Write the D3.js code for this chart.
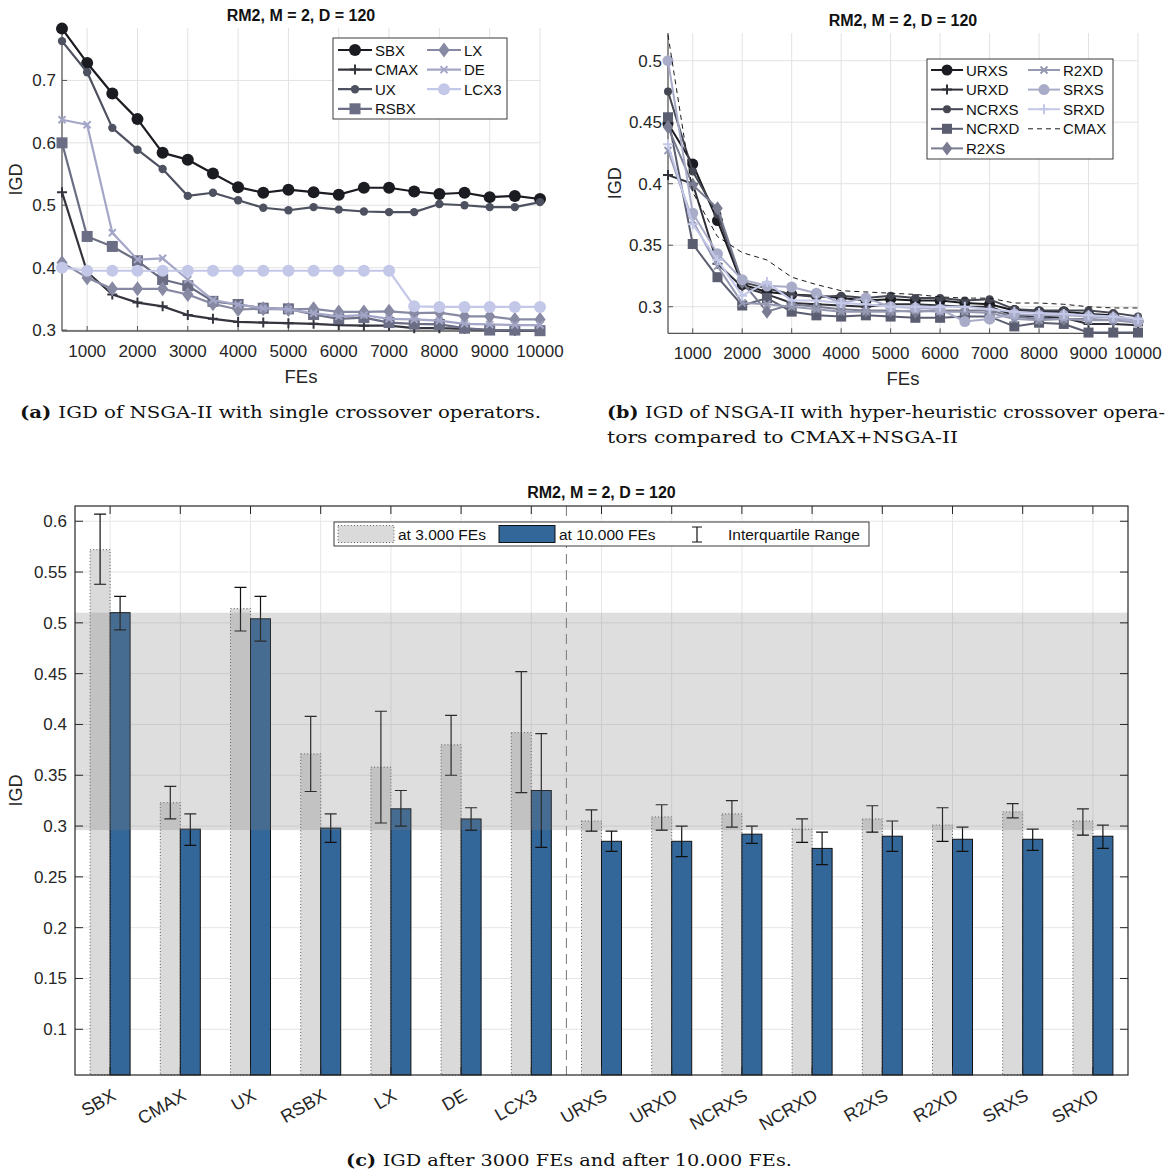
<!DOCTYPE html>
<html>
<head>
<meta charset="utf-8">
<script src="https://cdn.jsdelivr.net/npm/d3@7"></script>
<style>body{margin:0;background:#fff}</style>
</head>
<body>
<script>
// x values shared by both line charts
const FES = [500,1000,1500,2000,2500,3000,3500,4000,4500,5000,5500,6000,6500,7000,7500,8000,8500,9000,9500,10000];

// (a) single crossover operators
const SBX  = [0.783,0.728,0.679,0.638,0.584,0.573,0.551,0.529,0.520,0.525,0.521,0.517,0.528,0.528,0.522,0.518,0.520,0.513,0.515,0.510];
const CMAX = [0.521,0.393,0.357,0.344,0.338,0.324,0.318,0.313,0.312,0.311,0.310,0.308,0.307,0.307,0.303,0.303,0.302,0.300,0.299,0.299];
const UX   = [0.763,0.713,0.624,0.589,0.558,0.515,0.520,0.508,0.496,0.492,0.497,0.493,0.490,0.489,0.489,0.502,0.500,0.497,0.497,0.505];
const RSBX = [0.600,0.450,0.434,0.411,0.381,0.371,0.346,0.341,0.335,0.334,0.325,0.318,0.320,0.312,0.310,0.309,0.303,0.300,0.300,0.299];
const LX   = [0.408,0.384,0.366,0.366,0.366,0.357,0.342,0.333,0.334,0.333,0.334,0.329,0.329,0.330,0.327,0.328,0.322,0.322,0.317,0.317];
const DE   = [0.637,0.629,0.456,0.413,0.415,0.381,0.348,0.341,0.335,0.333,0.327,0.322,0.324,0.318,0.317,0.315,0.310,0.309,0.308,0.308];
const LCX3 = [0.400,0.395,0.395,0.395,0.395,0.395,0.395,0.395,0.395,0.395,0.395,0.395,0.395,0.395,0.338,0.337,0.337,0.337,0.337,0.337];

// (b) hyper-heuristic crossover operators
const URXS  = [0.449,0.416,0.370,0.318,0.312,0.310,0.309,0.307,0.305,0.306,0.305,0.305,0.303,0.302,0.297,0.296,0.296,0.294,0.293,0.288];
const URXD  = [0.407,0.400,0.335,0.316,0.310,0.303,0.302,0.301,0.300,0.302,0.302,0.301,0.300,0.300,0.293,0.292,0.291,0.286,0.286,0.285];
const NCRXS = [0.475,0.410,0.375,0.320,0.315,0.310,0.308,0.309,0.307,0.309,0.307,0.307,0.305,0.306,0.298,0.297,0.297,0.297,0.295,0.292];
const NCRXD = [0.454,0.351,0.324,0.301,0.307,0.296,0.293,0.292,0.293,0.292,0.291,0.291,0.292,0.292,0.284,0.287,0.286,0.279,0.279,0.279];
const R2XS  = [0.446,0.399,0.380,0.320,0.296,0.302,0.300,0.298,0.297,0.297,0.296,0.297,0.297,0.297,0.292,0.290,0.290,0.290,0.289,0.290];
const R2XD  = [0.427,0.370,0.333,0.303,0.302,0.300,0.298,0.296,0.296,0.296,0.297,0.296,0.296,0.295,0.290,0.289,0.290,0.289,0.289,0.287];
const SRXS  = [0.500,0.376,0.343,0.322,0.317,0.316,0.311,0.303,0.307,0.300,0.299,0.298,0.288,0.290,0.294,0.293,0.293,0.292,0.291,0.288];
const SRXD  = [0.432,0.367,0.338,0.309,0.320,0.305,0.305,0.303,0.302,0.300,0.300,0.300,0.300,0.298,0.296,0.295,0.294,0.293,0.292,0.290];

// (c) bars
const CATS = ["SBX","CMAX","UX","RSBX","LX","DE","LCX3","URXS","URXD","NCRXS","NCRXD","R2XS","R2XD","SRXS","SRXD"];
const AT3000   = [0.572,0.323,0.514,0.371,0.358,0.380,0.392,0.305,0.309,0.312,0.297,0.307,0.301,0.314,0.305];
const Q1_3000  = [0.538,0.307,0.492,0.334,0.303,0.350,0.333,0.295,0.296,0.299,0.284,0.294,0.285,0.308,0.291];
const Q3_3000  = [0.607,0.339,0.535,0.408,0.413,0.409,0.452,0.316,0.321,0.325,0.307,0.320,0.318,0.322,0.317];
const AT10000  = [0.510,0.297,0.504,0.298,0.317,0.307,0.335,0.285,0.285,0.292,0.278,0.290,0.287,0.287,0.290];
const Q1_10000 = [0.493,0.281,0.482,0.284,0.300,0.296,0.279,0.275,0.270,0.283,0.262,0.275,0.275,0.276,0.278];
const Q3_10000 = [0.526,0.312,0.526,0.312,0.335,0.318,0.391,0.295,0.300,0.300,0.294,0.305,0.299,0.297,0.301];
const BAND = [0.296, 0.510];

const FONT = "'Liberation Sans', Arial, sans-serif";
const SERIF = "'DejaVu Serif', 'Liberation Serif', serif";
const INK = "#262626";

const svg = d3.select("body").append("svg")
    .attr("width", 1173).attr("height", 1173)
    .style("font-family", FONT);
svg.append("rect").attr("width", 1173).attr("height", 1173).attr("fill", "#fff");

// draw one marker of given type at (0,0) of selection g
function drawMarker(g, type, color, size) {
    if (type == "circle") {
        g.append("circle").attr("r", size).attr("fill", color);
    } else if (type == "square") {
        g.append("rect").attr("x", -size).attr("y", -size).attr("width", 2 * size).attr("height", 2 * size).attr("fill", color);
    } else if (type == "diamond") {
        g.append("path").attr("d", `M0,${-size}L${size * 0.75},0L0,${size}L${-size * 0.75},0Z`).attr("fill", color);
    } else if (type == "plus") {
        g.append("path").attr("d", `M${-size},0H${size}M0,${-size}V${size}`).attr("stroke", color).attr("stroke-width", 2);
    } else if (type == "x") {
        g.append("path").attr("d", `M${-size},${-size}L${size},${size}M${-size},${size}L${size},${-size}`).attr("stroke", color).attr("stroke-width", 2);
    }
}

function lineChart(o) {
    const x = d3.scaleLinear().domain([500, 10000]).range([o.x0, o.x1]);
    const y = d3.scaleLinear().domain(o.ydom).range([o.y1, o.y0]);
    const g = svg.append("g");

    // grid
    g.append("g").selectAll("line").data(o.xticks).join("line")
        .attr("x1", d => x(d)).attr("x2", d => x(d)).attr("y1", o.y0).attr("y2", o.y1)
        .attr("stroke", "#e2e2e2");
    g.append("g").selectAll("line").data(o.yticks).join("line")
        .attr("x1", o.x0).attr("x2", o.x1).attr("y1", d => y(d)).attr("y2", d => y(d))
        .attr("stroke", "#e2e2e2");

    // axes
    g.append("line").attr("x1", o.x0).attr("x2", o.x0).attr("y1", o.y0).attr("y2", o.y1).attr("stroke", "#555").attr("stroke-width", 1.3);
    g.append("line").attr("x1", o.x0).attr("x2", o.x1).attr("y1", o.y1).attr("y2", o.y1).attr("stroke", "#555").attr("stroke-width", 1.3);
    g.append("g").selectAll("line").data(o.xticks).join("line")
        .attr("x1", d => x(d)).attr("x2", d => x(d)).attr("y1", o.y1).attr("y2", o.y1 - 5).attr("stroke", "#555");
    g.append("g").selectAll("line").data(o.yticks).join("line")
        .attr("x1", o.x0).attr("x2", o.x0 + 5).attr("y1", d => y(d)).attr("y2", d => y(d)).attr("stroke", "#555");

    g.append("g").selectAll("text").data(o.xticks).join("text")
        .attr("x", d => x(d)).attr("y", o.y1 + 26).attr("text-anchor", "middle")
        .attr("font-size", 17).attr("fill", INK).text(d => d);
    g.append("g").selectAll("text").data(o.yticks).join("text")
        .attr("x", o.x0 - 6).attr("y", d => y(d) + 6).attr("text-anchor", "end")
        .attr("font-size", 17).attr("fill", INK).text(o.yfmt);

    g.append("text").attr("x", (o.x0 + o.x1) / 2).attr("y", o.y1 + 52).attr("text-anchor", "middle")
        .attr("font-size", 18.5).attr("fill", INK).text("FEs");
    g.append("text").attr("transform", `translate(${o.ylabX},${(o.y0 + o.y1) / 2}) rotate(-90)`)
        .attr("text-anchor", "middle").attr("font-size", 18).attr("fill", INK).text("IGD");
    g.append("text").attr("x", o.titleX).attr("y", o.titleY).attr("text-anchor", "middle")
        .attr("font-size", 16).attr("font-weight", "bold").attr("fill", "#111").text("RM2, M = 2, D = 120");

    // series
    const line = d3.line().x((d, i) => x(FES[i])).y(d => y(d));
    o.series.forEach(s => {
        g.append("path").datum(s.values).attr("d", line).attr("fill", "none")
            .attr("stroke", s.color).attr("stroke-width", s.width || 2.2)
            .attr("stroke-dasharray", s.dash || null).attr("stroke-linejoin", "round");
        if (s.marker) {
            s.values.forEach((v, i) => {
                drawMarker(g.append("g").attr("transform", `translate(${x(FES[i])},${y(v)})`), s.marker, s.color, s.size);
            });
        }
    });

    // legend
    const L = o.legend;
    const lg = g.append("g");
    lg.append("rect").attr("x", L.x).attr("y", L.y).attr("width", L.w).attr("height", L.h)
        .attr("fill", "#fff").attr("stroke", INK).attr("stroke-width", 0.9);
    o.series.forEach((s, i) => {
        const col = i < L.perCol ? 0 : 1;
        const row = i % L.perCol;
        const cy = L.y + L.row0 + row * L.dy;
        const lx = L.x + L.cols[col];
        lg.append("line").attr("x1", lx).attr("x2", lx + L.lineW).attr("y1", cy).attr("y2", cy)
            .attr("stroke", s.color).attr("stroke-width", s.width || 2.2).attr("stroke-dasharray", s.dash || null);
        if (s.marker) drawMarker(lg.append("g").attr("transform", `translate(${lx + L.lineW / 2},${cy})`), s.marker, s.color, s.size);
        lg.append("text").attr("x", lx + L.lineW + 3).attr("y", cy + 5.5).attr("font-size", 15).attr("fill", "#111").text(s.name);
    });
}

const K = [1000,2000,3000,4000,5000,6000,7000,8000,9000,10000];

lineChart({
    x0: 62, x1: 540, y0: 28, y1: 331, ydom: [0.2985, 0.784],
    xticks: K, yticks: [0.3, 0.4, 0.5, 0.6, 0.7], yfmt: d => d3.format(".1f")(d),
    ylabX: 22, titleX: 301, titleY: 21,
    series: [
        { name: "SBX", values: SBX, color: "#1b1b22", marker: "circle", size: 6 },
        { name: "CMAX", values: CMAX, color: "#34353f", marker: "plus", size: 5 },
        { name: "UX", values: UX, color: "#4e5160", marker: "circle", size: 4.2 },
        { name: "RSBX", values: RSBX, color: "#6a6d84", marker: "square", size: 5.5 },
        { name: "LX", values: LX, color: "#888aa4", marker: "diamond", size: 7.5 },
        { name: "DE", values: DE, color: "#a3a6c6", marker: "x", size: 3.5 },
        { name: "LCX3", values: LCX3, color: "#c3c7e8", marker: "circle", size: 6 }
    ],
    legend: { x: 333, y: 38, w: 174, h: 81, perCol: 4, row0: 12, dy: 19.6, cols: [5, 94], lineW: 34 }
});

lineChart({
    x0: 668, x1: 1138, y0: 33, y1: 333.3, ydom: [0.2784, 0.5225],
    xticks: K, yticks: [0.3, 0.35, 0.4, 0.45, 0.5], yfmt: d => d3.format("")(d),
    ylabX: 621, titleX: 903, titleY: 26,
    series: [
        { name: "URXS", values: URXS, color: "#1b1b22", marker: "circle", size: 5.5, width: 2 },
        { name: "URXD", values: URXD, color: "#2f3039", marker: "plus", size: 5, width: 2 },
        { name: "NCRXS", values: NCRXS, color: "#444652", marker: "circle", size: 4, width: 2 },
        { name: "NCRXD", values: NCRXD, color: "#5b5e71", marker: "square", size: 5, width: 2 },
        { name: "R2XS", values: R2XS, color: "#7a7c91", marker: "diamond", size: 7, width: 2 },
        { name: "R2XD", values: R2XD, color: "#9699b2", marker: "x", size: 3.5, width: 2 },
        { name: "SRXS", values: SRXS, color: "#a9acc8", marker: "circle", size: 5.5, width: 2 },
        { name: "SRXD", values: SRXD, color: "#c4c8e8", marker: "plus", size: 5, width: 2 },
        { name: "CMAX", values: CMAX, color: "#1b1b1b", width: 1, dash: "5,4" }
    ],
    legend: { x: 927, y: 59, w: 186, h: 100, perCol: 5, row0: 11, dy: 19.6, cols: [4, 101], lineW: 32 }
});

// ---------- (c) bar chart ----------
const bx0 = 75, bx1 = 1128, by0 = 506, by1 = 1075;
const xb = d3.scaleBand().domain(CATS).range([bx0, bx1]).padding(0);
const yb = d3.scaleLinear().domain([0.055, 0.615]).range([by1, by0]);
const bw = xb.bandwidth() * 0.285;
const cx = c => xb(c) + xb.bandwidth() / 2;
const YT = [0.1, 0.15, 0.2, 0.25, 0.3, 0.35, 0.4, 0.45, 0.5, 0.55, 0.6];

const gc = svg.append("g");
gc.append("g").selectAll("line").data(YT).join("line")
    .attr("x1", bx0).attr("x2", bx1).attr("y1", d => yb(d)).attr("y2", d => yb(d)).attr("stroke", "#e6e6e6");
gc.append("g").selectAll("line").data(CATS).join("line")
    .attr("x1", d => cx(d)).attr("x2", d => cx(d)).attr("y1", by0).attr("y2", by1).attr("stroke", "#e6e6e6");

// bars at 3000 FEs
gc.append("g").selectAll("rect").data(CATS).join("rect")
    .attr("x", d => cx(d) - bw).attr("width", bw)
    .attr("y", (d, i) => yb(AT3000[i])).attr("height", (d, i) => by1 - yb(AT3000[i]))
    .attr("fill", "#dadada").attr("stroke", "#444").attr("stroke-width", 0.9).attr("stroke-dasharray", "1,2.2");
// bars at 10000 FEs
gc.append("g").selectAll("rect").data(CATS).join("rect")
    .attr("x", d => cx(d)).attr("width", bw)
    .attr("y", (d, i) => yb(AT10000[i])).attr("height", (d, i) => by1 - yb(AT10000[i]))
    .attr("fill", "#336699").attr("stroke", "#111").attr("stroke-width", 1);

// interquartile error bars
function errBars(q1, q3, off) {
    const g = gc.append("g").attr("stroke", "#111").attr("stroke-width", 1.2).attr("fill", "none");
    CATS.forEach((c, i) => {
        const xx = cx(c) + off;
        g.append("path").attr("d",
            `M${xx},${yb(q1[i])}V${yb(q3[i])}M${xx - 6},${yb(q1[i])}H${xx + 6}M${xx - 6},${yb(q3[i])}H${xx + 6}`);
    });
}
errBars(Q1_3000, Q3_3000, -bw / 2);
errBars(Q1_10000, Q3_10000, bw / 2);

// separator between single and hyper-heuristic operators
const sepX = xb("URXS");
gc.append("line").attr("x1", sepX).attr("x2", sepX).attr("y1", by0).attr("y2", by1)
    .attr("stroke", "#777").attr("stroke-width", 1).attr("stroke-dasharray", "10,6");

// shaded band
gc.append("rect").attr("x", bx0).attr("width", bx1 - bx0)
    .attr("y", yb(BAND[1])).attr("height", yb(BAND[0]) - yb(BAND[1]))
    .attr("fill", "rgb(125,125,125)").attr("fill-opacity", 0.255);

// axes box and ticks
gc.append("rect").attr("x", bx0).attr("y", by0).attr("width", bx1 - bx0).attr("height", by1 - by0)
    .attr("fill", "none").attr("stroke", INK).attr("stroke-width", 1.2);
gc.append("g").selectAll("path").data(YT).join("path")
    .attr("d", d => `M${bx0},${yb(d)}h8M${bx1},${yb(d)}h-8`).attr("stroke", INK);
gc.append("g").selectAll("path").data(CATS).join("path")
    .attr("d", d => `M${cx(d)},${by0}v8M${cx(d)},${by1}v-8`).attr("stroke", INK);

gc.append("g").selectAll("text").data(YT).join("text")
    .attr("x", bx0 - 8).attr("y", d => yb(d) + 6).attr("text-anchor", "end")
    .attr("font-size", 17).attr("fill", INK).text(d => d);
gc.append("g").selectAll("text").data(CATS).join("text")
    .attr("transform", d => `translate(${cx(d) + 7},${by1 + 24}) rotate(-30)`)
    .attr("text-anchor", "end").attr("font-size", 18).attr("fill", INK).text(d => d);
gc.append("text").attr("transform", `translate(22,${(by0 + by1) / 2}) rotate(-90)`)
    .attr("text-anchor", "middle").attr("font-size", 18).attr("fill", INK).text("IGD");
gc.append("text").attr("x", (bx0 + bx1) / 2).attr("y", 498).attr("text-anchor", "middle")
    .attr("font-size", 16).attr("font-weight", "bold").attr("fill", "#111").text("RM2, M = 2, D = 120");

// legend (c)
const lc = gc.append("g");
lc.append("rect").attr("x", 334).attr("y", 522).attr("width", 535).attr("height", 24)
    .attr("fill", "#fff").attr("stroke", INK).attr("stroke-width", 0.9);
lc.append("rect").attr("x", 338).attr("y", 525.5).attr("width", 56).attr("height", 17)
    .attr("fill", "#dadada").attr("stroke", "#444").attr("stroke-width", 0.9).attr("stroke-dasharray", "1,2.2");
lc.append("text").attr("x", 398).attr("y", 540).attr("font-size", 15.5).attr("fill", "#111").text("at 3.000 FEs");
lc.append("rect").attr("x", 499).attr("y", 525.5).attr("width", 56).attr("height", 17)
    .attr("fill", "#336699").attr("stroke", "#111").attr("stroke-width", 1);
lc.append("text").attr("x", 559).attr("y", 540).attr("font-size", 15.5).attr("fill", "#111").text("at 10.000 FEs");
lc.append("path").attr("d", "M697,527V542M692,527H702M692,542H702").attr("stroke", "#111").attr("stroke-width", 1.2);
lc.append("text").attr("x", 728).attr("y", 540).attr("font-size", 15.5).attr("fill", "#111").text("Interquartile Range");

// ---------- captions ----------
function caption(x, y, bold, rest, len) {
    const t = svg.append("text").attr("x", x).attr("y", y).attr("font-family", SERIF)
        .attr("font-size", 16.5).attr("fill", "#111");
    if (bold) t.append("tspan").attr("font-weight", "bold").text(bold + " ");
    t.append("tspan").text(rest);
    if (len) t.attr("textLength", len).attr("lengthAdjust", "spacingAndGlyphs");
}
caption(20, 418, "(a)", "IGD of NSGA-II with single crossover operators.", 521);
caption(607, 418, "(b)", "IGD of NSGA-II with hyper-heuristic crossover opera-", 558);
caption(607, 443, null, "tors compared to CMAX+NSGA-II", 351);
caption(346, 1166, "(c)", "IGD after 3000 FEs and after 10.000 FEs.", 446);
</script>
</body>
</html>
